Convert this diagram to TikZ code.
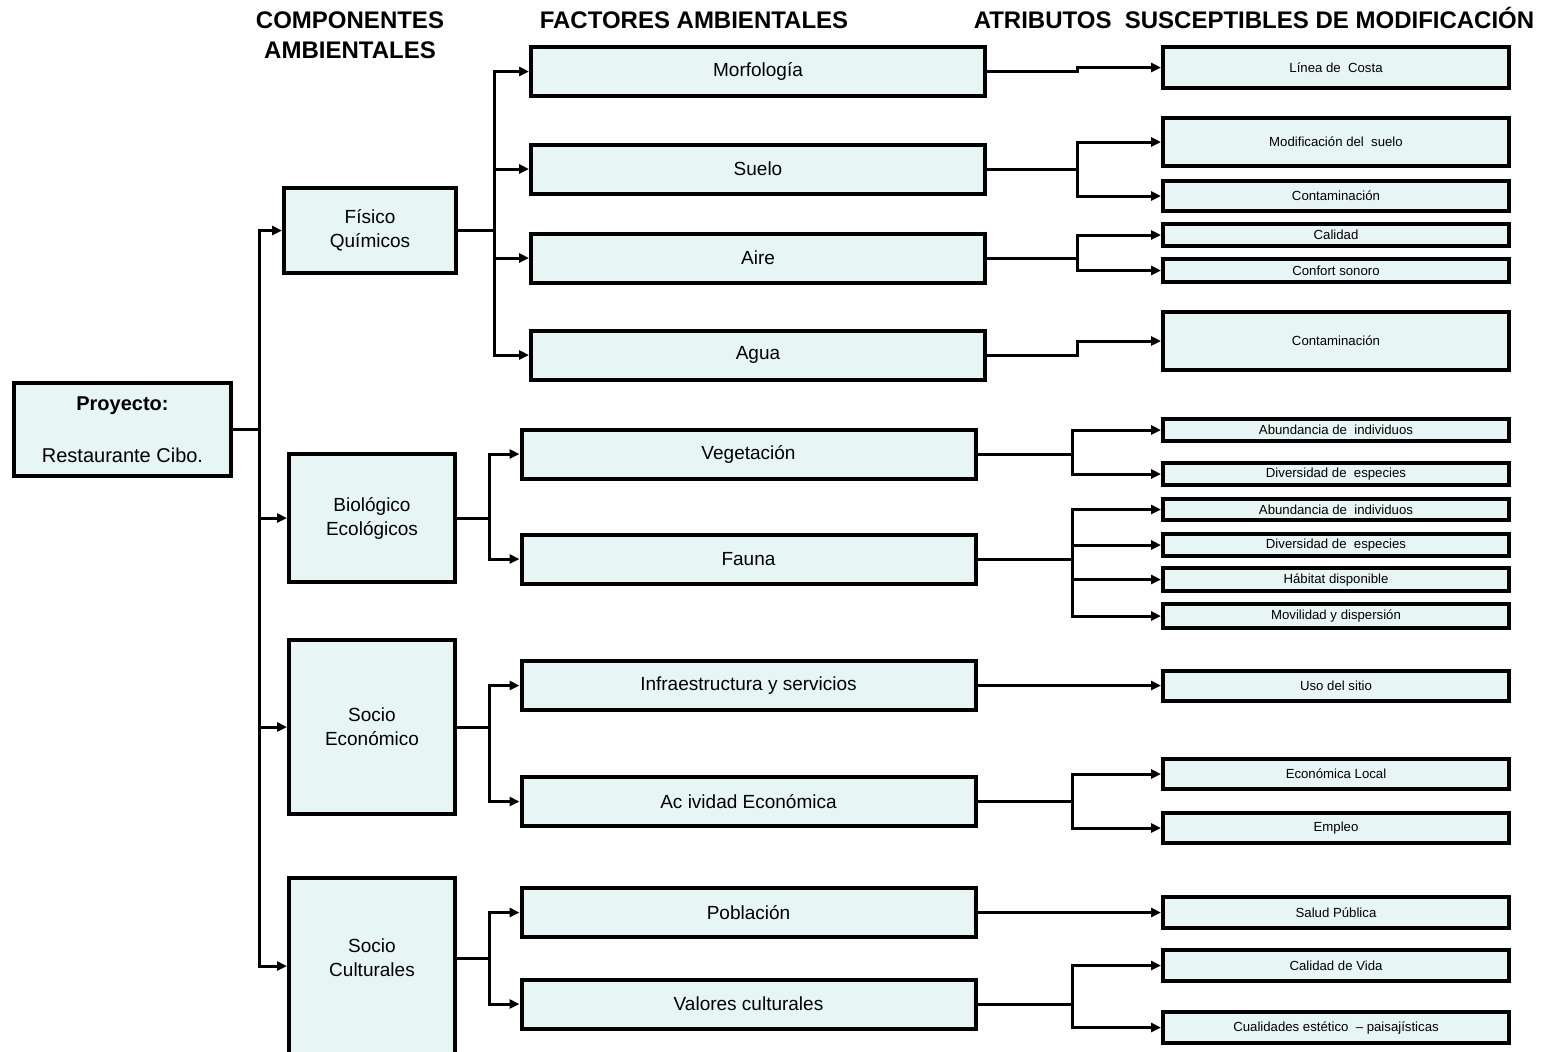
\documentclass[tikz,border=0pt]{standalone}
\usepackage{fontspec}
\setmainfont{Liberation Sans}
\usetikzlibrary{arrows.meta}
\definecolor{boxfill}{RGB}{232,245,245}

\begin{document}
\begin{tikzpicture}[x=0.5pt, y=-0.5pt,
  main/.style = {draw, rectangle, line width=2pt, fill=boxfill, inner sep=0pt, align=center},
  comp/.style = {main, minimum width=83pt, font=\fontsize{9.5}{12}\selectfont},
  fact/.style = {main, minimum width=227pt, minimum height=24.5pt, font=\fontsize{9.5}{11}\selectfont},
  attr/.style = {main, minimum width=173pt, font=\fontsize{6.6}{8}\selectfont},
  head/.style = {font=\bfseries\fontsize{12}{15}\selectfont, align=center},
  link/.style = {line width=1.5pt, -{Triangle[length=5pt,width=4.5pt]}}]
\useasboundingbox (0,0) rectangle (1558,1051);

% headings
\node[head] (h1) at (350,35) {COMPONENTES\\AMBIENTALES};
\node[head, anchor=base] (h2) at (694,28) {FACTORES AMBIENTALES};
\node[head, anchor=base] (h3) at (1254,28) {ATRIBUTOS\ \ SUSCEPTIBLES DE MODIFICACIÓN};

% project
\node[main, minimum width=108.5pt, minimum height=46.5pt, font=\fontsize{10}{12}\selectfont] (proy) at (122.5,429.5) {\textbf{Proyecto:}\\[14pt]Restaurante Cibo.};

% components
\node[comp, minimum width=86pt, minimum height=42.5pt] (fis) at (370,230.5) {Físico\\Químicos};
\node[comp, minimum height=64pt] (bio) at (372,518) {Biológico\\Ecológicos};
\node[comp, minimum height=87pt] (seco) at (372,727) {Socio\\Económico};
\node[comp, minimum height=88pt, label={[font=\fontsize{9.5}{12}\selectfont, align=center, yshift=4pt]center:Socio\\Culturales}] (scul) at (372,966) {};

% factors
\node[fact] (morf) at (758,71.5) {Morfología};
\node[fact] (suelo) at (758,169) {Suelo};
\node[fact] (aire) at (758,258) {Aire};
\node[fact] (agua) at (758,355) {Agua};
\node[fact] (veg) at (748.5,454) {Vegetación};
\node[fact] (fauna) at (748.5,559) {Fauna};
\node[fact] (infra) at (748.5,685.5) {Infraestructura y servicios};
\node[fact] (activ) at (748.5,801.5) {Ac ividad Económica};
\node[fact] (pobl) at (748.5,912.5) {Población};
\node[fact] (valor) at (748.5,1004) {Valores culturales};

% attributes
\node[attr, minimum height=20.5pt] (a1) at (1336,67.5) {Línea de\ \ Costa};
\node[attr, minimum height=24pt] (a2) at (1336,142) {Modificación del\ \ suelo};
\node[attr, minimum height=15pt] (a3) at (1336,196) {Contaminación};
\node[attr, minimum height=11pt] (a4) at (1336,235) {Calidad};
\node[attr, minimum height=11.5pt] (a5) at (1336,270.5) {Confort sonoro};
\node[attr, minimum height=29pt] (a6) at (1336,341) {Contaminación};
\node[attr, minimum height=11pt] (a7) at (1336,430) {Abundancia de\ \ individuos};
\node[attr, minimum height=11pt] (a8) at (1336,474) {Diversidad de\ \ especies};
\node[attr, minimum height=10.5pt] (a9) at (1336,509.5) {Abundancia de\ \ individuos};
\node[attr, minimum height=11pt] (a10) at (1336,545) {Diversidad de\ \ especies};
\node[attr, minimum height=11.5pt] (a11) at (1336,579.5) {Hábitat disponible};
\node[attr, minimum height=12pt] (a12) at (1336,616) {Movilidad y dispersión};
\node[attr, minimum height=15pt] (a13) at (1336,685.5) {Uso del sitio};
\node[attr, minimum height=15pt] (a14) at (1336,774) {Económica Local};
\node[attr, minimum height=15pt] (a15) at (1336,828) {Empleo};
\node[attr, minimum height=15.5pt] (a16) at (1336,912.5) {Salud Pública};
\node[attr, minimum height=15.5pt] (a17) at (1336,965.5) {Calidad de Vida};
\node[attr, minimum height=15.5pt] (a18) at (1336,1027.5) {Cualidades estético\ \ -- paisajísticas};

% project to components
\foreach \c in {fis,bio,seco,scul}
  \draw[link] (proy.east) -- ++(26,0) |- (\c.west);

% components to factors
\foreach \f in {morf,suelo,aire,agua}
  \draw[link] (fis.east) -- ++(36,0) |- (\f.west);
\foreach \f in {veg,fauna}
  \draw[link] (bio.east) -- ++(32,0) |- (\f.west);
\foreach \f in {infra,activ}
  \draw[link] (seco.east) -- ++(32,0) |- (\f.west);
\foreach \f in {pobl,valor}
  \draw[link] ([yshift=4pt]scul.east) -- ++(32,0) |- (\f.west);

% factors to attributes
\draw[link] (morf.east) -- ++(90,0) |- (a1.west);
\foreach \a in {a2,a3}
  \draw[link] (suelo.east) -- ++(90,0) |- (\a.west);
\foreach \a in {a4,a5}
  \draw[link] (aire.east) -- ++(90,0) |- (\a.west);
\draw[link] (agua.east) -- ++(90,0) |- (a6.west);
\foreach \a in {a7,a8}
  \draw[link] (veg.east) -- ++(94.5,0) |- (\a.west);
\foreach \a in {a9,a10,a11,a12}
  \draw[link] (fauna.east) -- ++(94.5,0) |- (\a.west);
\draw[link] (infra.east) -- (a13.west);
\foreach \a in {a14,a15}
  \draw[link] (activ.east) -- ++(94.5,0) |- (\a.west);
\draw[link] (pobl.east) -- (a16.west);
\foreach \a in {a17,a18}
  \draw[link] (valor.east) -- ++(94.5,0) |- (\a.west);

\end{tikzpicture}
\end{document}
